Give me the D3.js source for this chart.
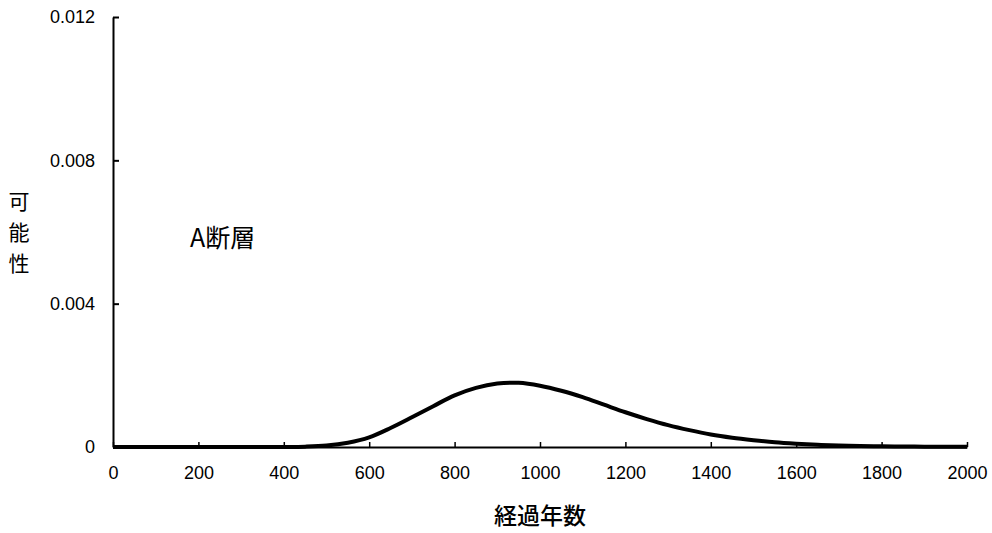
<!DOCTYPE html>
<html><head><meta charset="utf-8">
<script src="https://cdn.jsdelivr.net/npm/d3@7"></script>
<style>body{margin:0;background:#fff;} text{font-family:"Liberation Sans",Arial,sans-serif;}</style>
</head><body>
<svg id="c" width="992" height="533"></svg>
<script>
const years = [0,50,100,150,200,250,300,350,400,450,500,550,600,650,700,750,800,850,900,950,1000,1050,1100,1150,1200,1250,1300,1350,1400,1450,1500,1550,1600,1650,1700,1750,1800,1850,1900,1950,2000];
const probability = [0,0,0,0,0,0,0,0,0.000002,0.00001,0.00004,0.00012,0.00027,0.00053,0.00083,0.00114,0.00144,0.00165,0.00177,0.00179,0.00171,0.00157,0.00139,0.00118,0.00097,0.00078,0.00061,0.00047,0.00035,0.00026,0.00019,0.00013,0.00009,0.00006,0.00004,0.00003,0.00002,0.000013,0.000009,0.000006,0.000004];
const xTicks = [0,200,400,600,800,1000,1200,1400,1600,1800,2000];
const yTicks = [0,0.004,0.008,0.012];
const yTickLabels = ["0","0.004","0.008","0.012"];
const xTitle = "経過年数";
const yTitle = ["可","能","性"];
const seriesLabel = "A断層";

const svg = d3.select("#c");
const x = d3.scaleLinear().domain([0,2000]).range([113,967]);
const y = d3.scaleLinear().domain([0,0.012]).range([447,17]);

// x axis
const xa = svg.append("g").attr("transform","translate(0,447)")
  .call(d3.axisBottom(x).tickValues(xTicks).tickFormat(d3.format("d")).tickSizeInner(-5).tickSizeOuter(0).tickPadding(19));
xa.select(".domain").attr("stroke","#000").attr("stroke-width",2);
xa.selectAll(".tick line").attr("stroke","#000").attr("stroke-width",1.5);
xa.selectAll(".tick text").attr("fill","#000")
  .style("font-size","18px").style("font-family","'Liberation Sans',Arial,sans-serif");

// y axis
const ya = svg.append("g").attr("transform","translate(113,0)")
  .call(d3.axisLeft(y).tickValues(yTicks).tickFormat((d,i)=>yTickLabels[i]).tickSizeInner(-6).tickSizeOuter(0).tickPadding(18));
ya.select(".domain").attr("stroke","#000").attr("stroke-width",2);
ya.selectAll(".tick line").attr("stroke","#000").attr("stroke-width",2);
ya.selectAll(".tick text").attr("fill","#000")
  .style("font-size","18px").style("font-family","'Liberation Sans',Arial,sans-serif");

// curve
const line = d3.line().x((d,i)=>x(years[i])).y(d=>y(d)).curve(d3.curveCatmullRom.alpha(0.5));
svg.append("path").datum(probability).attr("d",line)
  .attr("fill","none").attr("stroke","#000").attr("stroke-width",4).attr("stroke-linejoin","round");

// titles
svg.append("text").attr("x",540).attr("y",524).attr("text-anchor","middle")
  .style("font-size","23px").style("font-weight","500")
  .style("font-family","'Noto Sans CJK JP',sans-serif").text(xTitle);
svg.selectAll(".yt").data(yTitle).enter().append("text")
  .attr("x",19).attr("y",(d,i)=>209+i*31).attr("text-anchor","middle")
  .style("font-size","21px").style("font-weight","400")
  .style("font-family","'Noto Sans CJK JP',sans-serif").text(d=>d);
svg.append("text").attr("x",190).attr("y",247).style("font-size","25px")
  .style("font-family","'Noto Sans CJK JP',sans-serif").text(seriesLabel);
</script>
</body></html>
